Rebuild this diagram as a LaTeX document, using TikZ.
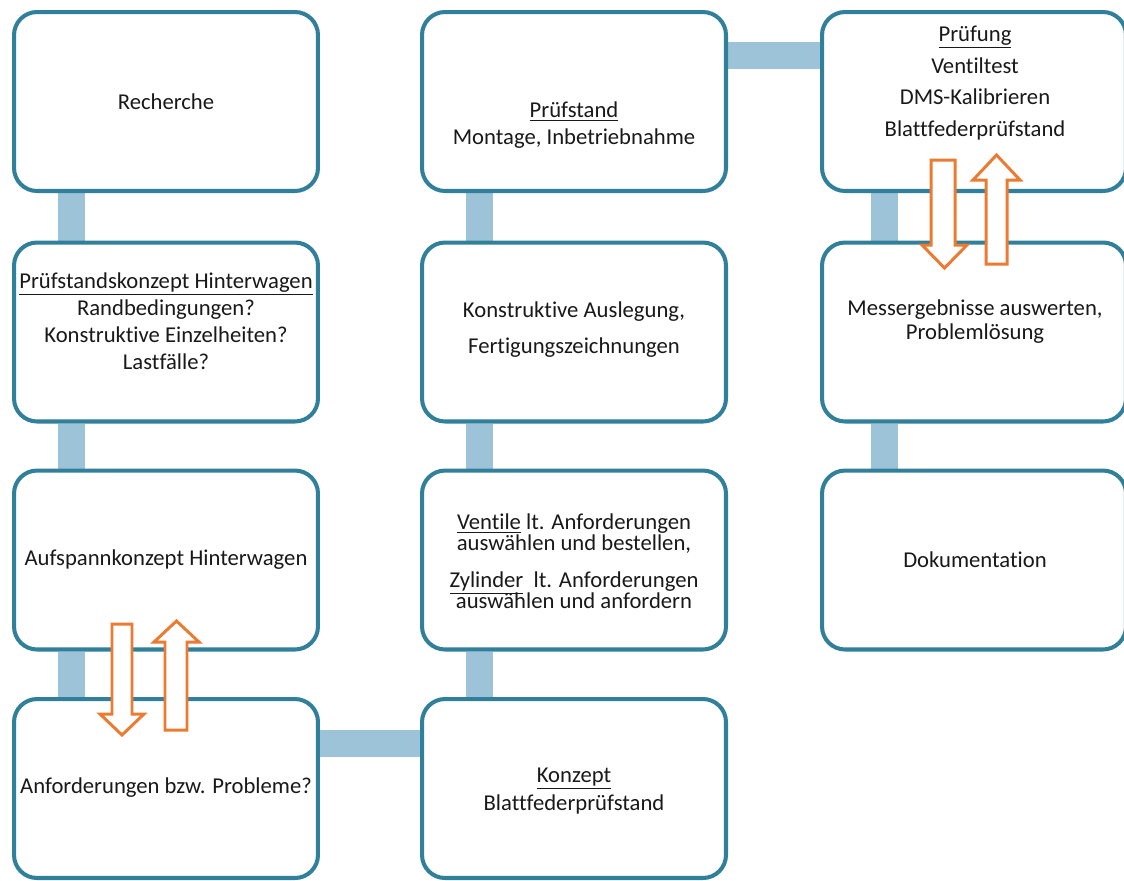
\documentclass[tikz,border=0pt]{standalone}
\usepackage{fontspec}
\setmainfont[Ligatures={NoCommon}]{Carlito}
\usetikzlibrary{backgrounds}
\definecolor{boxblue}{HTML}{31809B}
\definecolor{linkblue}{HTML}{9DC3D8}
\definecolor{arrorange}{HTML}{EB7B30}
\tikzset{
	stage/.style={draw=boxblue, line width=2.3pt, rounded corners=0.46cm, fill=white,
		minimum width=6.08cm, minimum height=3.58cm, inner sep=0pt},
	link/.style={draw=linkblue, line width=0.54cm},
	txt/.style={align=center, font=\fontsize{12.9}{15.3}\selectfont, text=black!90},
	hollow/.style={draw=arrorange, line width=1.7pt, fill=white, line join=miter},
}
\begin{document}
\begin{tikzpicture}[x=0.02cm, y=-0.02cm]
	\useasboundingbox (0,0) rectangle (1124,880);
	
	% boxes
	\node[stage] (rech) at (166,101.5) {};
	\node[stage] (hkonz) at (166,332) {};
	\node[stage] (aufsp) at (166,560) {};
	\node[stage] (anford) at (166,788.5) {};
	
	\node[stage] (bkonz) at (574,788.5) {};
	\node[stage] (ventil) at (574,560) {};
	\node[stage] (ausleg) at (574,332) {};
	\node[stage] (pstand) at (574,101.5) {};
	
	\node[stage] (pruef) at (974,101.5) {};
	\node[stage] (auswert) at (974,332) {};
	\node[stage] (doku) at (974,560) {};
	
	% connectors (behind the boxes)
	\begin{scope}[on background layer]
		\draw[link] ([xshift=1.19cm]rech.south west) -- ([xshift=1.19cm]hkonz.north west);
		\draw[link] ([xshift=1.19cm]hkonz.south west) -- ([xshift=1.19cm]aufsp.north west);
		\draw[link] ([xshift=1.19cm]aufsp.south west) -- ([xshift=1.19cm]anford.north west);
		\draw[link] ([yshift=0.9cm]anford.east) -- ([yshift=0.9cm]bkonz.west);
		\draw[link] ([xshift=1.19cm]bkonz.north west) -- ([xshift=1.19cm]ventil.south west);
		\draw[link] ([xshift=1.19cm]ventil.north west) -- ([xshift=1.19cm]ausleg.south west);
		\draw[link] ([xshift=1.19cm]ausleg.north west) -- ([xshift=1.19cm]pstand.south west);
		\draw[link] ([yshift=0.93cm]pstand.east) -- ([yshift=0.93cm]pruef.west);
		\draw[link] ([xshift=1.29cm]pruef.south west) -- ([xshift=1.29cm]auswert.north west);
		\draw[link] ([xshift=1.29cm]auswert.south west) -- ([xshift=1.29cm]doku.north west);
	\end{scope}
	
	% texts
	\node[txt] (t-rech) at (166,102) {Recherche};
	\node[txt] (t-hkonz) at (166,321) {\underline{Prüfstandskonzept Hinterwagen}\\Randbedingungen?\\Konstruktive Einzelheiten?\\Lastfälle?};
	\node[txt] (t-aufsp) at (166,560) {Aufspannkonzept Hinterwagen};
	\node[txt] (t-anford) at (166,788) {Anforderungen bzw. Probleme?};
	
	\node[txt] (t-pstand) at (574,125) {\underline{Prüfstand}\\Montage, Inbetriebnahme};
	\node[txt] (t-ausleg) at (574,330) {Konstruktive Auslegung,\\[0.18cm]Fertigungszeichnungen};
	\node[txt] (t-ventil) at (574,561) {\underline{Ventile} lt. Anforderungen\\[-0.12cm]auswählen und bestellen,\\[0.2cm]\underline{Zylinder}~ lt. Anforderungen\\[-0.12cm]auswählen und anfordern};
	\node[txt] (t-bkonz) at (574,791) {\underline{Konzept}\\[0.04cm]Blattfederprüfstand};
	
	\node[txt] (t-pruef) at (975,83) {\underline{Prüfung}\\[0.1cm]Ventiltest\\[0.1cm]DMS-Kalibrieren\\[0.1cm]Blattfederprüfstand};
	\node[txt] (t-auswert) at (975,322) {Messergebnisse auswerten,\\[-0.06cm]Problemlösung};
	\node[txt] (t-doku) at (975,560) {Dokumentation};
	
	% block arrows
	\draw[hollow] (112,624) -- (132,624) -- (132,714) -- (144,714) -- (122,735) -- (100,714) -- (112,714) -- cycle;
	\draw[hollow] (165,730) -- (187,730) -- (187,642) -- (199,642) -- (176.5,621) -- (154,642) -- (165,642) -- cycle;
	\draw[hollow] (931,160) -- (955,160) -- (955,245) -- (967,245) -- (944.5,268) -- (922,245) -- (931,245) -- cycle;
	\draw[hollow] (986,264) -- (1007,264) -- (1007,180) -- (1020,180) -- (996.5,155) -- (973,180) -- (986,180) -- cycle;
\end{tikzpicture}
\end{document}
